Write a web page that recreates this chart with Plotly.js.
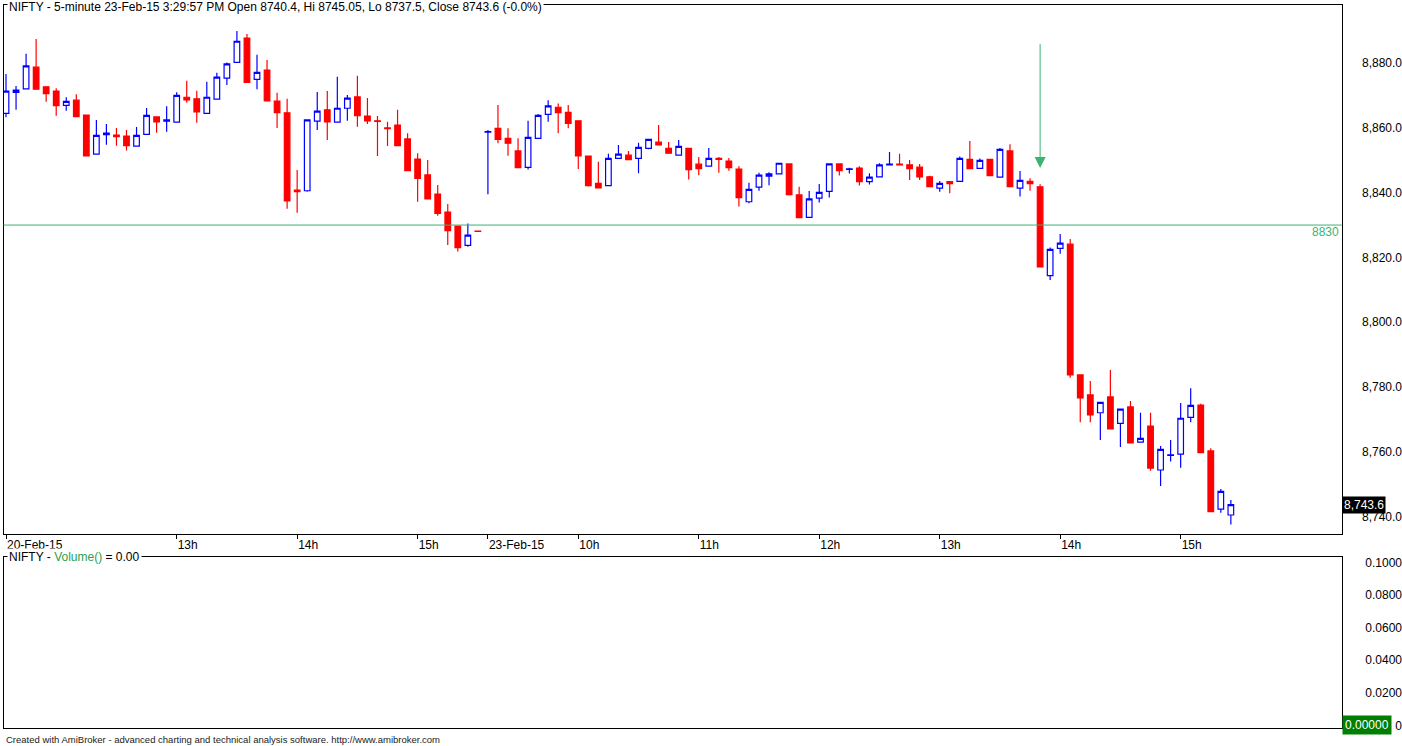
<!DOCTYPE html>
<html>
<head>
<meta charset="utf-8">
<script src="https://cdn.plot.ly/plotly-3.0.1.min.js"></script>
<style>
html,body{margin:0;padding:0;background:#ffffff;overflow:hidden;}
#chart{width:1402px;height:746px;}
</style>
</head>
<body>
<div id="chart"></div>
<script>
// ---------------- data ----------------
const symbolName = 'NIFTY';
const lastStamp = '23-Feb-15 3:29:57 PM';
const day1Label = '20-Feb';
const day1StartTime = '11:35';
const day1Bars = 48;
const day2Label = '23-Feb';
const day2StartTime = '09:15';
const day2Bars = 75;

const open = [
 8864.5,8871.0,8872.1,8878.8,8872.7,8871.4,8867.0,8868.6,8864.0,8851.9,
 8857.9,8857.8,8857.5,8854.4,8858.0,8863.4,8862.1,8861.8,8869.5,8869.0,
 8864.5,8868.9,8875.4,8880.3,8887.8,8875.0,8877.9,8868.3,8864.7,8840.8,
 8840.6,8862.1,8865.6,8861.8,8866.1,8869.6,8863.7,8862.2,8860.0,8860.9,
 8856.6,8850.4,8845.5,8839.6,8834.0,8829.7,8823.7,8828.1,
 8858.7,8859.9,8856.8,8852.9,8847.8,8856.8,8864.2,8866.4,8864.8,8862.2,
 8851.3,8842.9,8842.2,8850.6,8851.6,8850.6,8853.7,8855.6,8853.7,8851.6,
 8853.7,8848.8,8848.2,8850.6,8849.8,8847.3,8837.2,8841.7,8845.1,8845.8,
 8848.9,8839.3,8832.4,8838.3,8840.4,8848.9,8847.2,8847.6,8843.4,8844.9,
 8848.6,8848.8,8848.6,8847.9,8844.9,8841.4,8843.4,8843.5,8850.3,8847.5,
 8850.3,8844.8,8852.9,8841.4,8843.5,8841.8,8814.4,8822.8,8824.1,8783.7,
 8777.5,8772.0,8776.9,8768.7,8773.8,8762.9,8767.9,8754.3,8758.8,8759.2,
 8770.6,8774.4,8760.2,8742.2,8740.4
];
const high = [
 8876.7,8873.0,8882.9,8887.5,8872.8,8872.3,8869.5,8870.4,8864.1,8862.5,
 8861.2,8860.0,8859.4,8860.3,8866.2,8863.5,8866.7,8871.0,8874.6,8871.5,
 8874.3,8877.1,8880.2,8890.0,8889.0,8882.6,8881.0,8870.9,8869.0,8847.0,
 8862.6,8871.1,8871.4,8875.8,8870.2,8876.1,8869.3,8863.7,8861.9,8865.6,
 8858.4,8852.2,8850.1,8842.4,8836.5,8829.8,8830.5,8828.1,
 8859.4,8867.1,8859.9,8856.8,8862.2,8864.3,8868.6,8867.6,8867.1,8862.3,
 8851.4,8849.6,8852.0,8854.7,8852.9,8855.4,8856.6,8860.9,8855.7,8856.3,
 8853.8,8851.0,8853.8,8851.0,8850.7,8848.2,8843.1,8846.2,8846.3,8849.2,
 8849.0,8841.8,8840.5,8842.7,8849.0,8849.0,8847.7,8848.2,8846.0,8849.1,
 8852.6,8852.0,8850.1,8848.9,8845.2,8843.6,8843.5,8851.2,8856.0,8850.6,
 8850.4,8853.8,8855.0,8846.7,8844.5,8842.6,8823.1,8827.2,8825.7,8783.8,
 8781.8,8775.3,8785.2,8773.2,8775.6,8772.0,8772.0,8761.7,8763.6,8775.0,
 8779.6,8774.8,8761.0,8748.4,8745.05
];
const low = [
 8863.3,8865.6,8871.9,8871.8,8868.1,8863.8,8865.3,8863.4,8851.3,8851.8,
 8854.8,8854.5,8853.0,8854.3,8857.9,8858.5,8858.8,8861.7,8867.8,8861.6,
 8864.4,8868.8,8873.3,8880.2,8874.0,8872.0,8868.3,8860.0,8835.0,8833.8,
 8840.3,8859.4,8856.3,8861.7,8862.2,8860.4,8861.2,8851.3,8854.4,8854.4,
 8846.7,8837.2,8838.0,8832.9,8823.8,8821.8,8823.3,8828.0,
 8839.5,8855.3,8851.4,8847.6,8847.2,8856.7,8861.9,8858.4,8859.9,8847.3,
 8841.9,8841.4,8842.1,8850.5,8850.1,8846.0,8853.4,8854.7,8852.1,8851.5,
 8844.1,8845.4,8848.1,8846.2,8846.8,8835.7,8836.7,8840.6,8842.3,8845.7,
 8839.1,8832.2,8832.3,8837.0,8838.5,8845.3,8845.9,8842.2,8842.5,8844.8,
 8848.5,8848.5,8843.9,8843.9,8841.8,8840.3,8839.8,8843.4,8847.3,8847.4,
 8845.2,8844.7,8841.8,8838.8,8840.6,8817.0,8813.0,8821.1,8782.8,8769.1,
 8769.1,8763.6,8766.9,8761.4,8762.6,8762.8,8754.1,8749.4,8756.9,8755.0,
 8769.1,8759.6,8741.3,8741.1,8737.5
];
const close = [
 8871.4,8871.7,8879.2,8872.0,8870.6,8866.9,8868.2,8863.5,8851.4,8857.7,
 8858.4,8857.3,8854.5,8857.7,8863.9,8861.9,8862.5,8870.1,8868.7,8865.0,
 8869.5,8875.7,8879.8,8886.8,8874.1,8877.2,8868.4,8864.7,8837.5,8840.3,
 8862.5,8865.2,8861.9,8866.1,8869.2,8863.8,8862.2,8862.0,8859.8,8854.5,
 8846.8,8844.4,8838.1,8833.6,8828.3,8823.0,8826.9,8828.0,
 8858.9,8856.5,8855.3,8847.7,8857.1,8863.9,8866.8,8864.7,8861.4,8851.4,
 8842.2,8841.5,8850.6,8851.9,8850.2,8854.0,8856.5,8854.8,8852.2,8854.3,
 8847.1,8847.4,8850.6,8850.3,8847.7,8838.5,8841.0,8845.4,8845.8,8849.1,
 8839.4,8832.3,8838.1,8840.1,8848.9,8846.8,8847.4,8843.4,8844.8,8848.6,
 8848.8,8848.6,8847.4,8844.9,8841.9,8842.9,8842.8,8850.6,8847.4,8850.0,
 8845.3,8853.4,8841.9,8843.8,8842.8,8817.1,8822.5,8824.4,8783.7,8776.6,
 8771.3,8775.2,8767.0,8773.1,8762.7,8764.1,8754.9,8760.7,8759.0,8770.3,
 8774.3,8759.7,8741.4,8747.7,8743.6
];

const tickCategories = ['20-Feb 11:35','20-Feb 13:00','20-Feb 14:00','20-Feb 15:00','23-Feb 09:15','23-Feb 10:00','23-Feb 11:00','23-Feb 12:00','23-Feb 13:00','23-Feb 14:00','23-Feb 15:00'];
const tickLabels = ['20-Feb-15','13h','14h','15h','23-Feb-15','10h','11h','12h','13h','14h','15h'];

const priceTickValues = [8740,8760,8780,8800,8820,8840,8860,8880];
const priceTickLabels = ['8,740.0','8,760.0','8,780.0','8,800.0','8,820.0','8,840.0','8,860.0','8,880.0'];
const volumeTickValues = [0,0.02,0.04,0.06,0.08,0.1];
const volumeTickLabels = ['0','0.0200','0.0400','0.0600','0.0800','0.1000'];
const volumeValueText = '0.00';
const volumeLastText = '0.00000';

const supportLevel = 8830;
const signalBar = 103;        // index of the bar marked by the arrow
const arrowTop = 8886.0;
const arrowTip = 8847.6;

// ---------------- build ----------------
function pad2(n){ return (n < 10 ? '0' : '') + n; }
function sessionTimes(day, start, n){
  const parts = start.split(':');
  let m0 = parseInt(parts[0],10)*60 + parseInt(parts[1],10);
  const out = [];
  for (let i = 0; i < n; i++) {
    const t = m0 + 5*i;
    out.push(day + ' ' + pad2(Math.floor(t/60)) + ':' + pad2(t%60));
  }
  return out;
}
const categories = sessionTimes(day1Label, day1StartTime, day1Bars).concat(sessionTimes(day2Label, day2StartTime, day2Bars));

const W = 1402, H = 746;
const px = x => x / W;
const py = y => 1 - y / H;
const FONT = 'Liberation Sans, Arial, sans-serif';
const GREEN = '#3cb371';

const n = close.length;
const chg = ((close[n-1] - close[n-2]) / close[n-2] * 100).toFixed(1);
const titleText = symbolName + ' - 5-minute ' + lastStamp + ' Open ' + open[n-1] + ', Hi ' + high[n-1] +
  ', Lo ' + low[n-1] + ', Close ' + close[n-1] + ' (' + chg + '%)';

const xRange = [-0.25, 133.04];
const priceRange = [8734.53, 8898.0];
const volRange = [-0.00184, 0.10325];

const priceDomain = [py(534), py(5)];
const volDomain = [py(728.3), py(557)];
const xDomain = [px(3.5), px(1341.7)];

const traces = [
  {
    type: 'candlestick',
    x: categories, open: open, high: high, low: low, close: close,
    xaxis: 'x', yaxis: 'y',
    increasing: {line: {color: '#0000ff', width: 1.2}, fillcolor: '#ffffff'},
    decreasing: {line: {color: '#ff0000', width: 1.2}, fillcolor: '#ff0000'},
    whiskerwidth: 0,
    hoverinfo: 'skip',
    showlegend: false
  },
  {
    type: 'scatter', mode: 'lines',
    x: [categories[signalBar], categories[signalBar]],
    y: [arrowTop, arrowTip + 3],
    line: {color: GREEN, width: 1},
    xaxis: 'x', yaxis: 'y', hoverinfo: 'skip', showlegend: false
  },
  {
    type: 'scatter', mode: 'markers',
    x: [categories[signalBar]], y: [arrowTip],
    marker: {symbol: 'arrow-down', size: 11, color: GREEN, line: {width: 0}},
    xaxis: 'x', yaxis: 'y', hoverinfo: 'skip', showlegend: false
  },
  {
    type: 'scatter', mode: 'lines', x: [categories[0]], y: [null],
    xaxis: 'x', yaxis: 'y3', hoverinfo: 'skip', showlegend: false
  },
  {
    type: 'scatter', mode: 'lines', x: [0], y: [null],
    xaxis: 'x2', yaxis: 'y2', hoverinfo: 'skip', showlegend: false
  },
  {
    type: 'scatter', mode: 'lines', x: [0], y: [null],
    xaxis: 'x2', yaxis: 'y4', hoverinfo: 'skip', showlegend: false
  }
];

const layout = {
  width: W, height: H,
  margin: {l: 0, r: 0, t: 0, b: 0, pad: 0},
  paper_bgcolor: '#ffffff', plot_bgcolor: '#ffffff',
  showlegend: false,
  boxgap: 0.2,
  font: {family: FONT, size: 12, color: '#000000'},
  xaxis: {
    domain: xDomain, anchor: 'y', type: 'category',
    range: xRange, fixedrange: true,
    rangeslider: {visible: false},
    showline: true, mirror: true, linecolor: '#000000', linewidth: 1,
    showgrid: false, zeroline: false,
    tickmode: 'array', tickvals: tickCategories, ticktext: tickLabels,
    ticks: 'outside', ticklen: 4, tickcolor: '#000000', tickwidth: 1,
    ticklabelposition: 'outside right',
    tickfont: {family: FONT, size: 12, color: '#000000'}
  },
  yaxis: {
    domain: priceDomain, anchor: 'x', side: 'right',
    range: priceRange, fixedrange: true,
    showline: true, mirror: true, linecolor: '#000000', linewidth: 1,
    showgrid: false, zeroline: false, showticklabels: false, ticks: ''
  },
  yaxis3: {
    overlaying: 'y', anchor: 'free', position: 1, side: 'left',
    range: priceRange, fixedrange: true,
    showline: false, showgrid: false, zeroline: false, ticks: '',
    tickmode: 'array', tickvals: priceTickValues, ticktext: priceTickLabels,
    tickfont: {family: FONT, size: 12, color: '#000000'}
  },
  xaxis2: {
    domain: xDomain, anchor: 'y2', range: xRange, fixedrange: true,
    showline: true, mirror: true, linecolor: '#000000', linewidth: 1,
    showgrid: false, zeroline: false, showticklabels: false, ticks: ''
  },
  yaxis2: {
    domain: volDomain, anchor: 'x2', side: 'right',
    range: volRange, fixedrange: true,
    showline: true, mirror: true, linecolor: '#000000', linewidth: 1,
    showgrid: false, zeroline: false, showticklabels: false, ticks: ''
  },
  yaxis4: {
    overlaying: 'y2', anchor: 'free', position: 1, side: 'left',
    range: volRange, fixedrange: true,
    showline: false, showgrid: false, zeroline: false, ticks: '',
    tickmode: 'array', tickvals: volumeTickValues, ticktext: volumeTickLabels,
    tickfont: {family: FONT, size: 12, color: '#000000'}
  },
  shapes: [
    {type: 'line', xref: 'x domain', yref: 'y', x0: 0, x1: 1, y0: supportLevel, y1: supportLevel,
     line: {color: GREEN, width: 1}, layer: 'above'}
  ],
  annotations: [
    {text: titleText, xref: 'paper', yref: 'paper', x: px(7), y: py(7.5), xanchor: 'left', yanchor: 'middle',
     showarrow: false, bgcolor: '#ffffff', borderpad: 1, font: {family: FONT, size: 12, color: '#000000'}},
    {text: symbolName + ' - <span style="color:#2e9e4a">Volume()</span> = ' + volumeValueText,
     xref: 'paper', yref: 'paper', x: px(7), y: py(557), xanchor: 'left', yanchor: 'middle',
     showarrow: false, bgcolor: '#ffffff', borderpad: 1, font: {family: FONT, size: 12, color: '#000000'}},
    {text: String(supportLevel), xref: 'paper', yref: 'y', x: px(1340.5), y: supportLevel,
     xanchor: 'right', yanchor: 'top', yshift: 2, showarrow: false, borderpad: 1,
     font: {family: FONT, size: 12, color: GREEN}},
    {text: close[n-1].toLocaleString('en-US', {minimumFractionDigits: 1, maximumFractionDigits: 1}),
     xref: 'paper', yref: 'y', x: px(1341.7), y: close[n-1], xanchor: 'left', yanchor: 'middle',
     showarrow: false, bgcolor: '#000000', borderpad: 1, font: {family: FONT, size: 12, color: '#ffffff'}},
    {text: volumeLastText, xref: 'paper', yref: 'y2', x: px(1342.3), y: 0, xanchor: 'left', yanchor: 'middle',
     showarrow: false, bgcolor: '#008000', borderpad: 2, font: {family: FONT, size: 12, color: '#ffffff'}},
    {text: 'Created with AmiBroker - advanced charting and technical analysis software. http://www.amibroker.com',
     xref: 'paper', yref: 'paper', x: px(4), y: py(739.5), xanchor: 'left', yanchor: 'middle',
     showarrow: false, font: {family: FONT, size: 9.5, color: '#222222'}}
  ]
};

Plotly.newPlot('chart', traces, layout, {displayModeBar: false, staticPlot: true, responsive: false});
</script>
</body>
</html>
